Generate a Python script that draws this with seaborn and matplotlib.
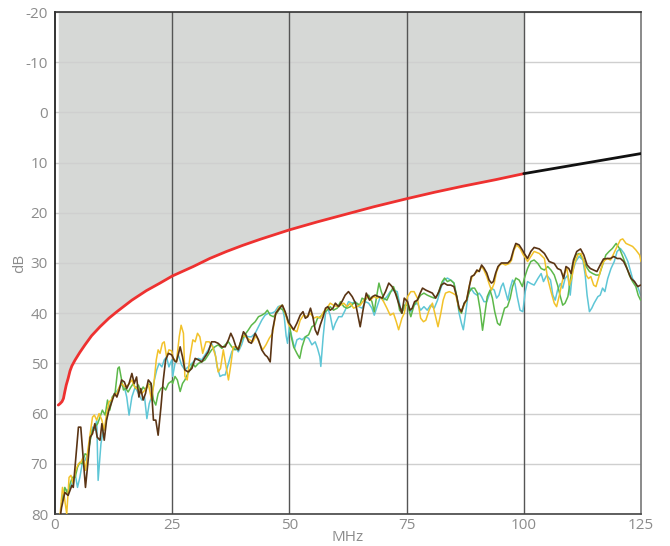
import matplotlib
matplotlib.use("Agg")
import matplotlib.pyplot as plt
import seaborn as sns

# -----------------------------
# Data
# -----------------------------
limit_x = [0.7, 1.1, 1.5, 1.8, 2.1, 2.4, 2.8, 3.2, 3.6, 4.3, 5.3, 6.4, 7.8, 9.6, 11.5,
           13.2, 16.4, 19.5, 22.4, 25, 29.5, 33, 36.6, 40, 43.7, 50, 56, 62, 68, 75,
           81, 87, 94, 100]
limit_y = [58.3, 58.0, 57.6, 57.0, 55.6, 54.3, 53.0, 51.5, 50.5, 49.3, 47.8, 46.3, 44.5,
           42.7, 41.0, 39.7, 37.4, 35.5, 34.0, 32.6, 30.7, 29.1, 27.7, 26.5, 25.3, 23.4,
           21.8, 20.3, 18.8, 17.2, 15.9, 14.7, 13.4, 12.2]
ext_x = [100, 105, 110, 115, 120, 125]
ext_y = [12.2, 11.4, 10.6, 9.8, 9.0, 8.2]

brown_x = [1.2, 1.4, 2.1, 2.8, 3.6, 3.9, 4.4, 5.0, 5.5, 6.0, 6.5, 7.0, 7.5, 8.0, 8.5, 9.0,
           9.6, 10.0, 10.5, 11.0, 11.5, 12.0, 12.7, 13.2, 13.7, 14.2, 14.8, 15.3, 15.8,
           16.4, 16.9, 17.4, 17.9, 18.3, 18.8, 19.3, 19.9, 20.5, 21.0, 21.5, 22.0, 22.6,
           23.1, 23.6, 24.2, 24.9, 25.5, 25.9, 26.7, 27.2, 27.7, 28.4, 29.2, 29.9, 30.6,
           31.3, 32.0, 32.7, 33.4, 34.1, 34.8, 35.6, 36.3, 37.0, 37.5, 38.0, 38.6, 39.1,
           39.6, 40.2, 40.7, 41.3, 41.9, 42.7, 43.4, 44.1, 44.8, 45.3, 45.9, 46.4, 47.1,
           47.9, 48.5, 49.1, 49.8, 50.2, 50.9, 51.6, 52.3, 52.9, 53.4, 53.9, 54.5, 55.0,
           55.5, 56.0, 56.6, 57.2, 57.7, 58.2, 58.7, 59.3, 59.8, 60.5, 61.2, 61.9, 62.6,
           63.4, 64.1, 64.6, 65.1, 65.7, 66.4, 67.1, 67.7, 68.3, 69.0, 69.8, 70.5, 71.2,
           71.9, 72.6, 73.3, 74.0, 74.5, 75.2, 75.7, 76.2, 76.7, 77.3, 77.9, 78.4, 79.1,
           79.8, 80.5, 81.2, 81.9, 82.4, 83.0, 83.7, 84.4, 85.1, 85.7, 86.2, 86.7, 87.3,
           87.8, 88.3, 88.8, 89.4, 90.0, 90.5, 91.0, 91.5, 92.1, 92.6, 93.1, 93.5, 94.0,
           94.5, 95.2, 95.9, 96.6, 97.2, 97.8, 98.3, 99.0, 99.7, 100.1, 100.8, 101.5,
           102.2, 103.3, 104.4, 105.4, 106.5, 107.2, 107.9, 108.5, 109.0, 109.6, 110.1,
           110.6, 111.3, 112.1, 112.8, 113.5, 114.2, 114.9, 115.6, 116.3, 117.0, 117.8,
           118.5, 119.2, 119.9, 120.6, 121.3, 122.0, 122.9, 123.6, 124.3, 124.9]
brown_y = [80, 78.7, 75.7, 76.3, 74.3, 74.7, 69.3, 62.7, 62.7, 68.7, 74.7, 70, 64.7, 64,
           62, 64.7, 65.3, 62, 65.3, 61.3, 59.3, 58, 56, 56.7, 55.3, 53.3, 53.7, 55, 54,
           52, 54, 52.7, 56.7, 55, 57.3, 56, 53.3, 54, 61.3, 61.3, 64.3, 58.7, 53.3, 49.3,
           48, 48.3, 49.5, 49.7, 46.7, 48.7, 51.3, 51.7, 51, 49, 49.3, 49.7, 48.7, 47.7,
           45.7, 45.7, 46, 46.7, 46.7, 45.3, 44, 45, 46.7, 47.3, 45.7, 43.7, 44.3, 45.7,
           46, 44, 45.3, 47.3, 48.3, 48.7, 49.7, 43.4, 40, 39, 38.4, 39.7, 41.8, 42.3,
           43.3, 42, 40.4, 39.7, 41, 40.7, 39, 40.7, 43.3, 44.3, 42.3, 40.7, 39, 38.7,
           39.4, 39, 38, 38.7, 37.7, 36.4, 35.7, 36.7, 38, 40.4, 42.7, 39.4, 36, 37.4,
           36.7, 36.4, 36.7, 37, 35.7, 34, 34.7, 36, 38, 40, 37, 37.7, 39.4, 39, 37.7,
           37.4, 36, 35, 35.4, 35.7, 36, 37, 35.7, 34.4, 34, 34.4, 34.4, 34.7, 36.7, 39,
           39.7, 38, 37.4, 35, 32.7, 32.4, 31.4, 31.7, 30.4, 31, 32, 33.4, 34, 33.7, 32,
           30.7, 30, 30, 30, 29.4, 27.4, 26.1, 26.4, 27.4, 28.1, 29.1, 27.7, 26.9, 27.2,
           28.1, 29.7, 30.1, 31.1, 31.4, 33.1, 30.7, 31.1, 32.1, 29.4, 27.7, 27.2, 28.4,
           30.4, 31.1, 31.4, 31.7, 30.4, 29.2, 29.1, 29.1, 28.7, 29.1, 29.1, 29.7, 31.1,
           33.1, 33.7, 34.7, 34.4]

yellow_x = [1.1, 1.6, 2.0, 2.5, 3.0, 3.4, 3.9, 4.4, 5.0, 5.5, 6.0, 6.5, 7.0, 7.5, 8.0,
            8.4, 8.9, 9.4, 10.0, 10.5, 11.0, 11.5, 12.0, 12.7, 13.2, 13.7, 14.2, 14.9,
            15.6, 16.4, 17.0, 17.8, 18.5, 19.2, 19.9, 20.6, 21.1, 21.6, 22.0, 22.4, 22.9,
            23.3, 23.8, 24.3, 24.9, 25.2, 25.9, 26.5, 26.9, 27.4, 27.7, 28.2, 28.8, 29.4,
            29.9, 30.4, 30.9, 31.5, 32.2, 32.9, 33.6, 34.3, 34.8, 35.3, 35.9, 36.5, 37.0,
            37.5, 38.0, 38.6, 39.3, 40.0, 40.7, 41.5, 42.2, 42.9, 43.6, 44.3, 45.0, 45.7,
            46.4, 47.1, 47.9, 48.5, 49.1, 49.8, 50.2, 50.9, 51.6, 52.3, 53.0, 53.8, 54.5,
            55.2, 55.9, 56.6, 57.3, 58.0, 58.7, 59.4, 60.2, 60.9, 61.6, 62.3, 63.0, 63.7,
            64.4, 65.1, 65.9, 66.6, 67.3, 68.0, 68.7, 69.4, 70.1, 70.8, 71.5, 72.2, 72.8,
            73.3, 74.0, 74.5, 75.2, 75.9, 76.6, 77.3, 78.0, 78.6, 79.1, 79.8, 80.5, 81.2,
            81.7, 82.3, 82.8, 83.3, 84.1, 84.8, 85.5, 86.0, 86.5, 87.1, 87.8, 88.4, 89.0,
            89.7, 90.5, 91.0, 91.5, 92.1, 92.7, 93.1, 93.7, 94.2, 94.8, 95.4, 96.1, 96.9,
            97.4, 97.9, 98.5, 99.2, 99.9, 100.4, 100.8, 101.5, 102.2, 103.3, 104.4, 105.1,
            105.8, 106.5, 107.0, 107.6, 108.1, 108.6, 109.2, 109.7, 110.2, 110.8, 111.5,
            112.2, 112.8, 113.3, 113.8, 114.3, 114.9, 115.4, 115.9, 116.5, 117.0, 117.8,
            118.5, 119.2, 119.9, 120.6, 121.1, 121.8, 122.5, 123.2, 123.9, 124.7, 125.0]
yellow_y = [80, 74.7, 76.7, 80, 72.7, 72.3, 74, 71.3, 70, 69.7, 68.7, 71.3, 67.3, 64,
            60.7, 60.3, 61.3, 60, 61.3, 63.3, 60, 57.7, 57.3, 56.3, 56, 54.7, 54, 54.7,
            54.3, 53.3, 54.7, 55.3, 56, 55.3, 54, 57.3, 54, 49.3, 47.3, 48, 46, 45.7, 48.7,
            47.3, 47.5, 49, 49.7, 44.7, 42.4, 44, 52.6, 53.3, 48.7, 45.3, 45.7, 44, 44.7,
            48, 45.7, 45.7, 46.7, 48.7, 51.7, 51, 47.3, 50.7, 53.3, 50.3, 46.7, 46.7, 47,
            44.4, 44.7, 45.3, 45.7, 44.4, 46, 47.3, 46.3, 45, 44, 40, 38.7, 38.4, 40, 42.2,
            42.7, 43.3, 43.7, 41.4, 40.4, 40.7, 40, 41, 40.7, 41, 39.7, 39, 38, 38.4, 38.7,
            38.4, 38, 38.7, 38, 39, 38.7, 38.4, 37.4, 36.7, 37.4, 36.7, 37, 36.7, 37.7, 39,
            40.4, 40, 41.7, 43.3, 41, 40, 36.7, 35.7, 35.7, 37, 41, 41.7, 41.4, 39.4, 38,
            40.7, 42.7, 40, 37.4, 36, 35.7, 36, 36.4, 38.4, 39.7, 38.7, 37.4, 34.4, 32.7,
            32, 31.4, 30.7, 31.4, 32.7, 34.4, 35.4, 34, 31.7, 30.4, 30.1, 30.4, 30.1, 29.4,
            27.4, 26.4, 27.1, 28.4, 29, 29.7, 28.7, 27.7, 28.1, 29.1, 33.1, 35.7, 38, 38.7,
            36.4, 34.1, 32.1, 31.1, 34.4, 33.1, 30.1, 28.4, 28.1, 29.7, 32.4, 33.1, 32.7,
            34.4, 34.7, 33.1, 31.1, 29.7, 29.1, 29.4, 28.1, 26.7, 25.4, 25.2, 26.1, 26.4,
            26.7, 27.4, 28.4, 29.7]

cyan_x = [1.4, 2.1, 2.8, 3.6, 4.3, 4.8, 5.3, 5.8, 6.4, 7.0, 7.5, 8.0, 8.4, 8.9, 9.2, 9.8,
          10.3, 10.8, 11.4, 11.9, 12.7, 13.4, 14.1, 14.8, 15.3, 15.8, 16.4, 17.1, 17.8,
          18.5, 19.1, 19.6, 20.1, 20.6, 21.2, 21.7, 22.2, 22.8, 23.3, 23.8, 24.3, 24.9,
          25.1, 25.6, 26.3, 27.0, 27.7, 28.4, 29.2, 29.9, 30.6, 31.3, 32.0, 32.7, 33.4,
          34.1, 34.6, 35.2, 35.8, 36.3, 37.0, 37.7, 38.4, 39.1, 39.8, 40.5, 41.2, 41.9,
          42.7, 43.4, 44.1, 44.8, 45.5, 46.2, 46.9, 47.6, 48.4, 48.9, 49.3, 49.6, 50.0,
          50.6, 51.1, 51.6, 52.2, 52.7, 53.4, 54.1, 54.8, 55.5, 56.0, 56.5, 56.7, 57.2,
          57.7, 58.2, 58.7, 59.3, 59.8, 60.5, 61.2, 61.9, 62.6, 63.4, 64.1, 64.8, 65.5,
          66.2, 66.9, 67.6, 68.1, 68.7, 69.4, 70.1, 70.8, 71.5, 72.2, 73.0, 73.7, 74.4,
          75.0, 75.9, 76.6, 77.3, 78.0, 78.7, 79.4, 80.1, 80.9, 81.6, 82.3, 83.0, 83.7,
          84.4, 85.1, 85.7, 86.2, 86.7, 87.1, 87.6, 88.1, 88.7, 89.4, 90.0, 90.5, 91.0,
          91.5, 92.1, 92.6, 93.1, 93.7, 94.2, 94.7, 95.2, 95.6, 96.1, 96.6, 97.1, 97.6,
          98.1, 98.6, 99.2, 99.8, 100.3, 100.8, 101.5, 102.2, 103.0, 103.7, 104.2, 104.9,
          105.7, 106.2, 106.7, 107.2, 107.8, 108.3, 108.8, 109.4, 109.9, 110.4, 111.1,
          111.8, 112.6, 113.1, 113.5, 114.0, 114.5, 115.0, 115.8, 116.3, 116.8, 117.3,
          117.9, 118.6, 119.3, 119.9, 120.6, 121.4, 122.2, 123.2, 124.3, 124.9]
cyan_y = [77.3, 75, 75.3, 74, 72, 74.7, 72.7, 70, 69.3, 68, 65.3, 62.7, 63.3, 61.3, 73.3,
          66, 63.3, 62, 59.3, 57.7, 56, 55.3, 54.3, 54.7, 56.7, 60.3, 56.7, 54.7, 56,
          57.3, 56.7, 61, 58, 56.7, 53.3, 51.3, 50, 50.7, 49.3, 48.7, 50.7, 49.3, 52.6,
          50, 48.3, 50.3, 51.3, 50.7, 50, 49.3, 49, 49.3, 48.3, 47.3, 46, 47.7, 50.7,
          52.6, 52.3, 52.3, 50, 47.7, 46.7, 47.7, 46.3, 44.3, 44.7, 44.7, 44, 42.7, 41.4,
          40.4, 40, 40, 39.7, 38.7, 38.4, 40.7, 44.5, 46, 42.7, 45, 47, 45.3, 45, 45.3,
          44.7, 45, 46.3, 45.7, 47, 48.7, 50.6, 44.7, 40, 39, 40.4, 43.3, 42, 40.7, 40.7,
          39.4, 37.7, 38, 37.7, 38.7, 39, 37.7, 38, 39, 40.4, 38.7, 36.7, 37.4, 36.7,
          35.7, 35.4, 35.7, 39, 39.4, 37.5, 39.7, 38.4, 38, 39.4, 38.7, 39.4, 38.4, 39,
          37.4, 35, 33.4, 33, 33.4, 34, 36.7, 40, 42, 43.3, 40, 36.4, 35, 36, 36.4, 36,
          36.7, 37.7, 37.7, 36.4, 35, 35.4, 37, 36.4, 34.7, 34, 35.7, 37.4, 35, 33.4, 34,
          36.7, 39.4, 39.7, 35.7, 33.7, 34.1, 34.4, 33.1, 32.1, 33.7, 32.4, 33.4, 36.4,
          37.4, 35.4, 34.1, 35, 33.1, 32.4, 36.4, 31.7, 29.7, 28.7, 29.4, 32.4, 36.4,
          39.7, 39, 38, 36.7, 36.4, 35, 35.7, 33.1, 31.1, 29.7, 27.7, 27.1, 28.1, 29.7,
          33.1, 34.7, 36.4]

green_x = [1.4, 2.1, 2.7, 3.2, 3.7, 4.3, 4.8, 5.3, 5.8, 6.4, 7.0, 7.5, 8.0, 8.5, 9.1, 9.6,
           10.1, 10.7, 11.2, 11.7, 12.2, 12.8, 13.4, 13.7, 14.1, 14.6, 15.1, 15.6, 16.2,
           16.7, 17.2, 17.8, 18.3, 18.8, 19.3, 19.9, 20.5, 21.0, 21.5, 22.0, 22.6, 23.1,
           23.6, 24.2, 24.9, 25.1, 25.6, 26.1, 26.7, 27.2, 27.7, 28.2, 28.8, 29.4, 29.9,
           30.6, 31.3, 32.0, 32.7, 33.4, 34.1, 34.8, 35.6, 36.3, 37.0, 37.7, 38.4, 39.1,
           39.8, 40.5, 41.2, 41.9, 42.7, 43.4, 44.1, 44.8, 45.3, 45.9, 46.6, 47.3, 48.0,
           48.7, 49.4, 50.0, 50.4, 50.9, 51.6, 52.2, 52.7, 53.4, 54.1, 54.8, 55.5, 56.0,
           56.6, 57.3, 58.0, 58.7, 59.4, 60.2, 60.9, 61.6, 62.3, 63.0, 63.7, 64.4, 65.0,
           65.5, 66.2, 66.9, 67.6, 68.1, 68.6, 69.1, 69.6, 70.1, 70.8, 71.5, 72.2, 73.0,
           73.5, 74.0, 74.5, 75.2, 75.9, 76.6, 77.3, 78.0, 78.7, 79.4, 80.1, 80.9, 81.6,
           82.1, 82.6, 83.1, 83.7, 84.4, 85.1, 85.7, 86.2, 86.7, 87.3, 87.8, 88.4, 89.0,
           89.5, 90.1, 90.7, 91.2, 91.7, 92.2, 92.8, 93.3, 93.8, 94.4, 94.9, 95.4, 95.9,
           96.5, 97.1, 97.6, 98.3, 99.0, 99.7, 100.1, 100.8, 101.5, 102.2, 103.0, 103.7,
           104.4, 105.1, 105.8, 106.5, 107.2, 107.8, 108.3, 108.8, 109.4, 109.9, 110.4,
           111.1, 111.8, 112.6, 113.3, 114.0, 114.7, 115.4, 116.1, 116.8, 117.5, 118.2,
           118.9, 119.7, 120.4, 121.1, 121.8, 122.5, 123.2, 123.9, 124.4, 124.9]
green_y = [78, 74.7, 76, 74, 72.7, 72.7, 70.7, 69.7, 70, 68, 68.3, 65.3, 63.3, 62.7, 62,
           60.7, 59.3, 60.3, 57.3, 59.3, 56.7, 56, 51, 50.7, 52.7, 55.3, 55, 55.7, 54.7,
           54, 55, 54.3, 55.7, 54.7, 55.3, 54.3, 54, 57.3, 58.3, 56, 55, 54.7, 55.3, 54,
           53.5, 54, 52.6, 53.3, 55.6, 54, 53.3, 52.3, 51.3, 50, 50.7, 50, 49.7, 49.3,
           48.3, 47.3, 46.7, 46.3, 47, 46.3, 45.7, 46.7, 47.3, 47, 45.3, 44.3, 43.4, 42.4,
           41.7, 40.7, 40.4, 40, 39.4, 40.4, 40.7, 40, 39, 39.4, 40.7, 42.3, 44.7, 46.7,
           48, 49, 46.7, 44.7, 44.3, 42.7, 42.3, 41, 40.7, 40, 39.4, 38.7, 39.4, 39, 37.7,
           38.7, 39, 38.7, 38, 38, 38.4, 37, 37.4, 36.4, 37.7, 39.7, 36.7, 34, 35.7, 37,
           37.4, 36, 34.7, 36.7, 39.4, 40, 38.4, 38.4, 40.7, 38.4, 37.4, 36.4, 36, 36.4,
           36.7, 37, 36.4, 35, 33.7, 33, 33.7, 33.4, 34, 36.7, 39.4, 40, 38, 37.4, 35.7,
           35, 35, 36, 39.4, 43.4, 40, 36.7, 35.4, 37, 39.7, 42, 42.4, 40.7, 39, 38.7, 37,
           34.7, 33, 33.4, 34.7, 33.1, 31.1, 29.7, 29.4, 30.1, 31.1, 31.4, 30.7, 31.4,
           32.4, 34.4, 36.7, 38.4, 38, 36.7, 33.7, 30.4, 28.4, 28.1, 29.1, 30.7, 31.7,
           32.1, 32.4, 32.4, 30.4, 28.4, 27.7, 27.1, 26.1, 27.1, 28.7, 30.4, 32.4, 33.7,
           34.7, 36.4, 37.4]

x_ticks = [0, 25, 50, 75, 100, 125]
y_ticks = [-20, -10, 0, 10, 20, 30, 40, 50, 60, 70, 80]

# -----------------------------
# Style
# -----------------------------
sns.set_theme(style="white")
plt.rcParams["font.family"] = ["Open Sans", "DejaVu Sans"]
plt.rcParams["axes.unicode_minus"] = False

TICK_GREY = "#8c8c8c"

fig = plt.figure(figsize=(6.7, 5.46), dpi=100)
ax = fig.add_axes([55 / 670, 1 - 514 / 546, 586 / 670, 502 / 546])

# shaded zone above the limit line
ax.fill_between(limit_x, limit_y, -20, color="#d6d8d6", linewidth=0, zorder=0)

ax.set_xticks(x_ticks)
ax.set_yticks(y_ticks)
ax.grid(axis="y", color="#cfcfcf", linewidth=1, zorder=0.5)
ax.grid(axis="x", visible=False)
for xv in x_ticks[1:-1]:
    ax.axvline(xv, color="#555555", linewidth=1, zorder=0.6)

# measured traces
sns.lineplot(x=cyan_x, y=cyan_y, color="#5ec6d6", linewidth=1.1, ax=ax, zorder=2)
sns.lineplot(x=green_x, y=green_y, color="#5cb84a", linewidth=1.1, ax=ax, zorder=3)
sns.lineplot(x=yellow_x, y=yellow_y, color="#f2c22a", linewidth=1.1, ax=ax, zorder=4)
sns.lineplot(x=brown_x, y=brown_y, color="#5a3414", linewidth=1.2, ax=ax, zorder=5)

# limit line
sns.lineplot(x=limit_x, y=limit_y, color="#ee3130", linewidth=2, ax=ax, zorder=6)
sns.lineplot(x=ext_x, y=ext_y, color="#111111", linewidth=2, ax=ax, zorder=6)

ax.set_xlim(0, 125)
ax.set_ylim(80, -20)

for side, col in [("left", "#111111"), ("bottom", "#444444"),
                  ("right", "#777777"), ("top", "#333333")]:
    ax.spines[side].set_visible(True)
    ax.spines[side].set_color(col)
    ax.spines[side].set_linewidth(1.2)

ax.tick_params(length=0, labelsize=11, labelcolor=TICK_GREY)
ax.tick_params(axis="y", pad=5)
ax.tick_params(axis="x", pad=3)
ax.set_xlabel("MHz", color=TICK_GREY, fontsize=11)
ax.set_ylabel("dB", color=TICK_GREY, fontsize=11)
ax.xaxis.set_label_coords(0.5, -0.046)
ax.xaxis.label.set_va("center")
ax.yaxis.set_label_coords(-0.06, 0.5)
ax.yaxis.label.set_va("center")

fig.savefig("out.png", dpi=100)
plt.close(fig)
